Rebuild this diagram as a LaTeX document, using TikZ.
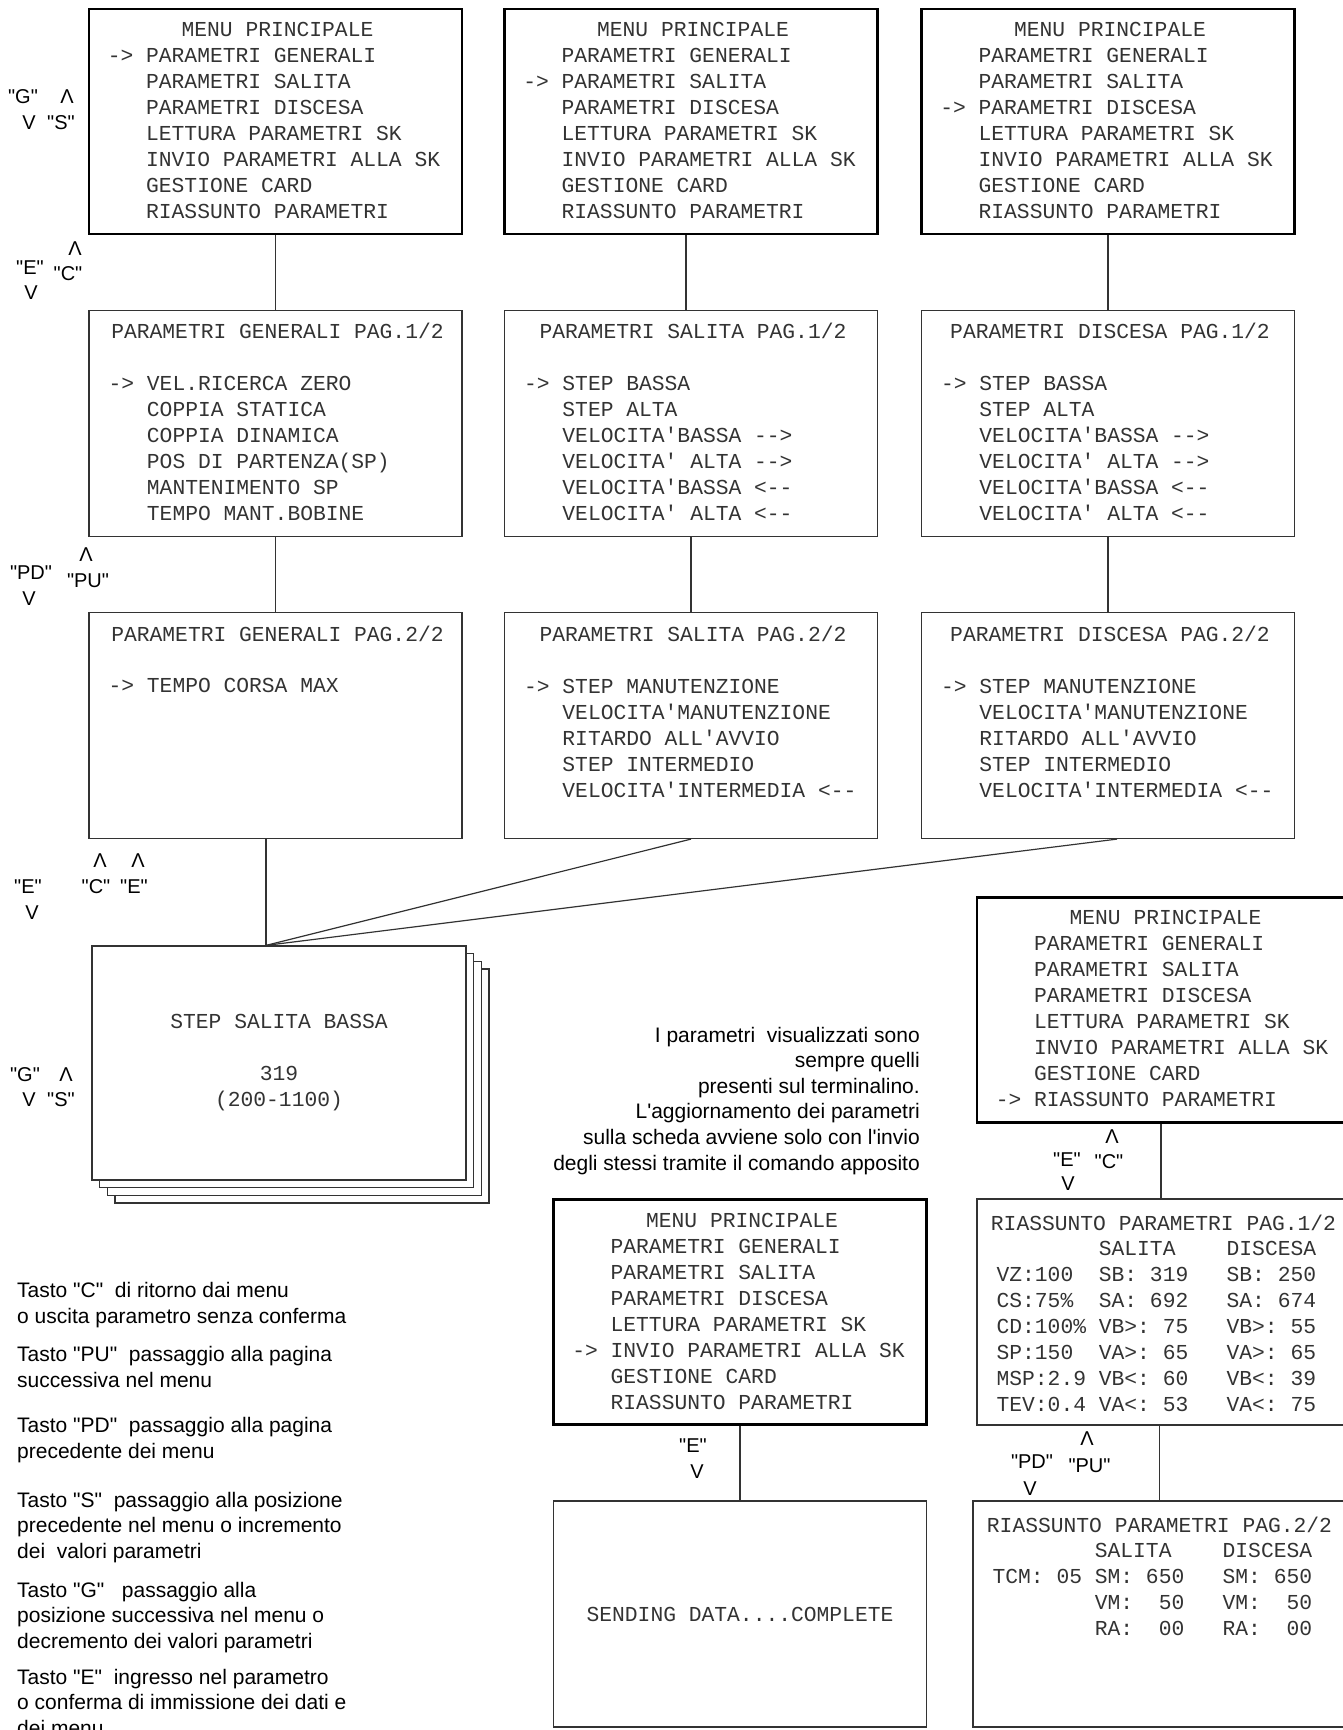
\documentclass[tikz,border=0pt]{standalone}
\usepackage{fontspec}
\setmonofont{Liberation Mono}[Ligatures=TeXOff]
\newfontfamily\keyfont{Liberation Sans}[Ligatures=TeXOff]
\usetikzlibrary{positioning}
\tikzstyle{menu} = [rectangle, draw, line width=2.8pt, minimum width=373pt, minimum height=225pt, inner sep=0pt]
\tikzstyle{panel} = [rectangle, draw=black!80, line width=1.2pt, minimum width=373pt, minimum height=226pt, inner sep=0pt, text=black!80, font=\ttfamily\fontsize{21.3}{26}\selectfont]
\tikzstyle{card} = [panel, fill=white, minimum width=374pt, minimum height=234pt, align=center]
\tikzstyle{ttl} = [anchor=base, inner sep=0pt, text=black!80, font=\ttfamily\fontsize{21.3}{26}\selectfont]
\tikzstyle{lst} = [anchor=base west, inner sep=0pt, align=left, text=black!80, font=\ttfamily\fontsize{21.3}{26}\selectfont]
\tikzstyle{hotkey} = [anchor=base, inner sep=0pt, font=\keyfont\fontsize{20}{24}\selectfont]
\tikzstyle{expl} = [anchor=base west, inner sep=0pt, align=left, font=\keyfont\fontsize{21}{25.5}\selectfont]
\tikzstyle{wire} = [draw=black!80, line width=1.2pt]

\begin{document}
\begin{tikzpicture}[x=1pt, y=-1pt, node distance=302pt]
    \fill[white] (0,0) rectangle (1342,1730);
    \useasboundingbox (0,0) rectangle (1342,1730);

    % Main menus
    \node (mgen) [menu] at (275.5,121.5) {};
    \node (msal) [menu] at (691,121.5) {};
    \node (mdis) [menu] at (1108,121.5) {};

    % Parameter pages
    \node (gen1) [panel, below of=mgen] {};
    \node (gen2) [panel, below of=gen1] {};
    \node (sal1) [panel, below of=msal] {};
    \node (sal2) [panel, below of=sal1] {};
    \node (dis1) [panel, below of=mdis] {};
    \node (dis2) [panel, below of=dis1] {};

    % Parameter value screens
    \foreach \d/\n in {23/c, 15.4/b, 7.7/a}
        \node (stk\n) [card] at (279+\d,1063+\d) {};
    \node (stk) [card] at (279,1063) {STEP SALITA BASSA\\[26pt]319\\(200-1100)};
    \coordinate (hub) at ([xshift=-13pt]stk.north);

    % Summary and send
    \node (mrias) [menu] at (1163.5,1010) {};
    \node (rias1) [panel, below of=mrias] {};
    \node (rias2) [panel, below of=rias1, xshift=-4pt] {};
    \node (minv) [menu] at (740,1312) {};
    \node (send) [panel, below of=minv] {SENDING DATA....COMPLETE};

    % Menu texts (lists anchored at their last line)
    \node (mgen-t) [ttl, xshift=2pt, yshift=-29pt] at (mgen.north) {MENU PRINCIPALE};
    \node (mgen-l) [lst, xshift=20pt, yshift=-211pt] at (mgen.north west) {->~PARAMETRI GENERALI\\~~~PARAMETRI SALITA\\~~~PARAMETRI DISCESA\\~~~LETTURA PARAMETRI SK\\~~~INVIO PARAMETRI ALLA SK\\~~~GESTIONE CARD\\~~~RIASSUNTO PARAMETRI};
    \node (msal-t) [ttl, xshift=2pt, yshift=-29pt] at (msal.north) {MENU PRINCIPALE};
    \node (msal-l) [lst, xshift=20pt, yshift=-211pt] at (msal.north west) {~~~PARAMETRI GENERALI\\->~PARAMETRI SALITA\\~~~PARAMETRI DISCESA\\~~~LETTURA PARAMETRI SK\\~~~INVIO PARAMETRI ALLA SK\\~~~GESTIONE CARD\\~~~RIASSUNTO PARAMETRI};
    \node (mdis-t) [ttl, xshift=2pt, yshift=-29pt] at (mdis.north) {MENU PRINCIPALE};
    \node (mdis-l) [lst, xshift=20pt, yshift=-211pt] at (mdis.north west) {~~~PARAMETRI GENERALI\\~~~PARAMETRI SALITA\\->~PARAMETRI DISCESA\\~~~LETTURA PARAMETRI SK\\~~~INVIO PARAMETRI ALLA SK\\~~~GESTIONE CARD\\~~~RIASSUNTO PARAMETRI};
    \node (mrias-t) [ttl, xshift=2pt, yshift=-28pt] at (mrias.north) {MENU PRINCIPALE};
    \node (mrias-l) [lst, xshift=20pt, yshift=-210pt] at (mrias.north west) {~~~PARAMETRI GENERALI\\~~~PARAMETRI SALITA\\~~~PARAMETRI DISCESA\\~~~LETTURA PARAMETRI SK\\~~~INVIO PARAMETRI ALLA SK\\~~~GESTIONE CARD\\->~RIASSUNTO PARAMETRI};
    \node (minv-t) [ttl, xshift=2pt, yshift=-29pt] at (minv.north) {MENU PRINCIPALE};
    \node (minv-l) [lst, xshift=20pt, yshift=-211pt] at (minv.north west) {~~~PARAMETRI GENERALI\\~~~PARAMETRI SALITA\\~~~PARAMETRI DISCESA\\~~~LETTURA PARAMETRI SK\\->~INVIO PARAMETRI ALLA SK\\~~~GESTIONE CARD\\~~~RIASSUNTO PARAMETRI};

    % Page texts
    \node (gen1-t) [ttl, xshift=2pt, yshift=-29pt] at (gen1.north) {PARAMETRI GENERALI PAG.1/2};
    \node (gen1-l) [lst, xshift=20pt, yshift=-211pt] at (gen1.north west) {->~VEL.RICERCA ZERO\\~~~COPPIA STATICA\\~~~COPPIA DINAMICA\\~~~POS DI PARTENZA(SP)\\~~~MANTENIMENTO SP\\~~~TEMPO MANT.BOBINE};
    \node (gen2-t) [ttl, xshift=2pt, yshift=-30pt] at (gen2.north) {PARAMETRI GENERALI PAG.2/2};
    \node (gen2-l) [lst, xshift=20pt, yshift=-81pt] at (gen2.north west) {->~TEMPO CORSA MAX};
    \node (sal1-t) [ttl, xshift=2pt, yshift=-29pt] at (sal1.north) {PARAMETRI SALITA PAG.1/2};
    \node (sal1-l) [lst, xshift=20pt, yshift=-211pt] at (sal1.north west) {->~STEP BASSA\\~~~STEP ALTA\\~~~VELOCITA'BASSA -->\\~~~VELOCITA' ALTA -->\\~~~VELOCITA'BASSA <--\\~~~VELOCITA' ALTA <--};
    \node (sal2-t) [ttl, xshift=2pt, yshift=-30pt] at (sal2.north) {PARAMETRI SALITA PAG.2/2};
    \node (sal2-l) [lst, xshift=20pt, yshift=-186pt] at (sal2.north west) {->~STEP MANUTENZIONE\\~~~VELOCITA'MANUTENZIONE\\~~~RITARDO ALL'AVVIO\\~~~STEP INTERMEDIO\\~~~VELOCITA'INTERMEDIA <--};
    \node (dis1-t) [ttl, xshift=2pt, yshift=-29pt] at (dis1.north) {PARAMETRI DISCESA PAG.1/2};
    \node (dis1-l) [lst, xshift=20pt, yshift=-211pt] at (dis1.north west) {->~STEP BASSA\\~~~STEP ALTA\\~~~VELOCITA'BASSA -->\\~~~VELOCITA' ALTA -->\\~~~VELOCITA'BASSA <--\\~~~VELOCITA' ALTA <--};
    \node (dis2-t) [ttl, xshift=2pt, yshift=-30pt] at (dis2.north) {PARAMETRI DISCESA PAG.2/2};
    \node (dis2-l) [lst, xshift=20pt, yshift=-186pt] at (dis2.north west) {->~STEP MANUTENZIONE\\~~~VELOCITA'MANUTENZIONE\\~~~RITARDO ALL'AVVIO\\~~~STEP INTERMEDIO\\~~~VELOCITA'INTERMEDIA <--};
    \node (rias1-t) [ttl, yshift=-32pt] at (rias1.north) {RIASSUNTO PARAMETRI PAG.1/2};
    \node (rias1-l) [lst, xshift=20pt, yshift=-213pt] at (rias1.north west) {~~~~~~~~SALITA~~~~DISCESA\\VZ:100~~SB: 319~~~SB: 250\\CS:75\%~~SA: 692~~~SA: 674\\CD:100\% VB>: 75~~~VB>: 55\\SP:150~~VA>: 65~~~VA>: 65\\MSP:2.9 VB<: 60~~~VB<: 39\\TEV:0.4 VA<: 53~~~VA<: 75};
    \node (rias2-t) [ttl, yshift=-32pt] at (rias2.north) {RIASSUNTO PARAMETRI PAG.2/2};
    \node (rias2-l) [lst, xshift=20pt, yshift=-135pt] at (rias2.north west) {~~~~~~~~SALITA~~~~DISCESA\\TCM: 05 SM: 650~~~SM: 650\\~~~~~~~~VM:~~50~~~VM:~~50\\~~~~~~~~RA:~~00~~~RA:~~00};

    % Connectors
    \draw [wire] (mgen) -- (gen1);
    \draw [wire] (gen1) -- (gen2);
    \draw [wire] ([xshift=-5pt]msal.south) -- ([xshift=-5pt]sal1.north);
    \draw [wire] (sal1) -- (sal2);
    \draw [wire] (mdis) -- (dis1);
    \draw [wire] (dis1) -- (dis2);
    \draw [wire] (gen2.south -| hub) -- (hub);
    \draw [wire] (sal2.south) -- (hub);
    \draw [wire] ([xshift=9pt]dis2.south) -- (hub);
    \draw [wire] ([xshift=-2.5pt]mrias.south) -- ([xshift=-2.5pt]rias1.north);
    \draw [wire] ([xshift=-4pt]rias1.south) -- (rias2.north);
    \draw [wire] (minv) -- (send);

    % Key labels
    \node (kg1) [hotkey] at (23,103) {"G"};
    \node (ku1) [hotkey] at (67,103) {Λ};
    \node (kd1) [hotkey] at (29,129) {V};
    \node (ks1) [hotkey] at (61,129) {"S"};
    \node (ku2) [hotkey] at (75,255) {Λ};
    \node (ke2) [hotkey] at (30,274) {"E"};
    \node (kc2) [hotkey] at (68,280) {"C"};
    \node (kd2) [hotkey] at (31,299) {V};
    \node (ku3) [hotkey] at (86,561) {Λ};
    \node (kpd3) [hotkey] at (31,579) {"PD"};
    \node (kpu3) [hotkey] at (88,587) {"PU"};
    \node (kd3) [hotkey] at (29,605) {V};
    \node (ku4) [hotkey] at (100,867) {Λ};
    \node (ku4b) [hotkey] at (138,867) {Λ};
    \node (ke4) [hotkey] at (28,893) {"E"};
    \node (kc4) [hotkey] at (96,893) {"C"};
    \node (ke4b) [hotkey] at (134,893) {"E"};
    \node (kd4) [hotkey] at (32,919) {V};
    \node (kg5) [hotkey] at (25,1081) {"G"};
    \node (ku5) [hotkey] at (66,1081) {Λ};
    \node (kd5) [hotkey] at (29,1106) {V};
    \node (ks5) [hotkey] at (61,1106) {"S"};
    \node (ku6) [hotkey] at (1112,1143) {Λ};
    \node (ke6) [hotkey] at (1067,1166) {"E"};
    \node (kc6) [hotkey] at (1109,1168) {"C"};
    \node (kd6) [hotkey] at (1068,1190) {V};
    \node (ku7) [hotkey] at (1087,1445) {Λ};
    \node (kpd7) [hotkey] at (1032,1468) {"PD"};
    \node (kpu7) [hotkey] at (1089.5,1472) {"PU"};
    \node (kd7) [hotkey] at (1030,1495) {V};
    \node (ke8) [hotkey] at (693,1452) {"E"};
    \node (kd8) [hotkey] at (697,1478) {V};

    % Notes (anchored at their last line)
    \node (info) [expl, anchor=base east, align=right, font=\keyfont\fontsize{21}{25.6}\selectfont] at (920,1170) {I parametri~ visualizzati sono\\sempre quelli\\presenti sul terminalino.\\L'aggiornamento dei parametri\\sulla scheda avviene solo con l'invio\\degli stessi tramite il comando apposito};
    \node (lgc) [expl] at (17,1323) {Tasto "C"~ di ritorno dai menu\\o uscita parametro senza conferma};
    \node (lgpu) [expl] at (17,1387) {Tasto "PU"~ passaggio alla pagina\\successiva nel menu};
    \node (lgpd) [expl] at (17,1458) {Tasto "PD"~ passaggio alla pagina\\precedente dei menu};
    \node (lgs) [expl] at (17,1558) {Tasto "S"~ passaggio alla posizione\\precedente nel menu o incremento\\dei~ valori parametri};
    \node (lgg) [expl] at (17,1648) {Tasto "G"~~ passaggio alla\\posizione successiva nel menu o\\decremento dei valori parametri};
    \node (lge) [expl] at (17,1735) {Tasto "E"~ ingresso nel parametro\\o conferma di immissione dei dati e\\dei menu};
\end{tikzpicture}
\end{document}
